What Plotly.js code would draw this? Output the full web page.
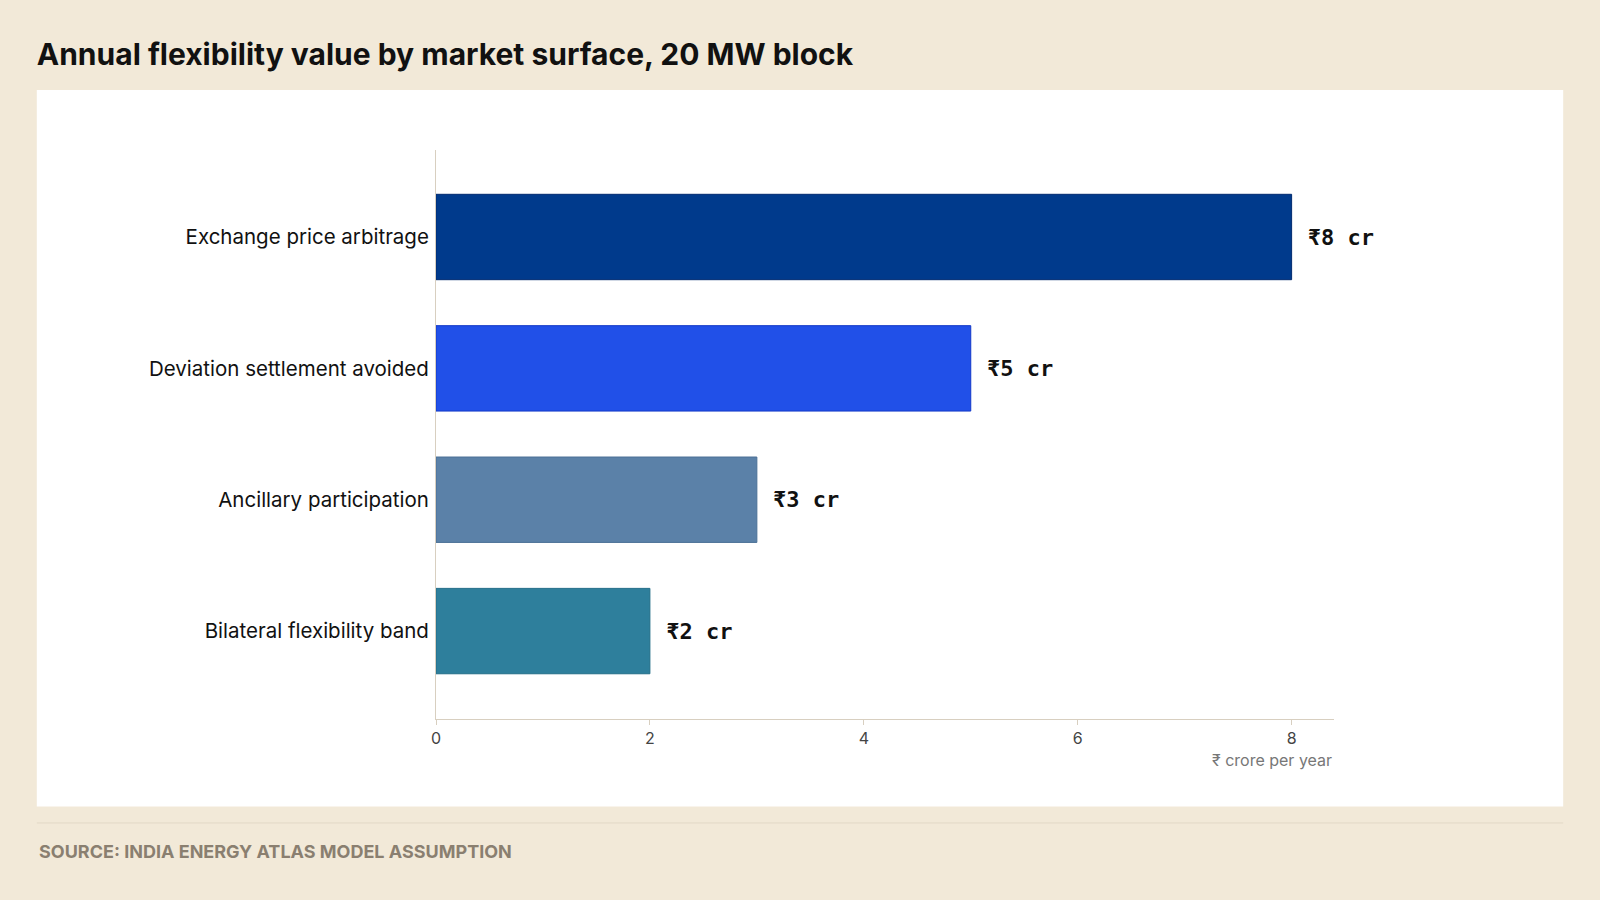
<!DOCTYPE html>
<html>
<head>
<meta charset="utf-8">
<script src="https://cdn.plot.ly/plotly-3.0.1.min.js"></script>
<style>body{margin:0;background:#f2e9d8;}</style>
</head>
<body>
<div id="plot" style="width:1600px;height:900px;"></div>
<script>
const categories = ["Exchange price arbitrage", "Deviation settlement avoided", "Ancillary participation", "Bilateral flexibility band"];
const values = [8, 5, 3, 2];
const labels = [" ₹8 cr", " ₹5 cr", " ₹3 cr", " ₹2 cr"];
const colors = ["#003a8c", "#2150e8", "#5b81a8", "#2e7f9c"];
const edges = ["#002a70", "#1238c8", "#4a6f96", "#226d88"];

const trace = {
    type: 'bar',
    orientation: 'h',
    y: categories,
    x: values,
    text: labels,
    textposition: 'outside',
    cliponaxis: false,
    textfont: { family: 'DejaVu Sans Mono', size: 22, color: '#111', weight: 700 },
    marker: { color: colors, line: { color: edges, width: 1 } },
    hoverinfo: 'none'
};

const layout = {
    width: 1600, height: 900,
    margin: { l: 0, r: 0, t: 0, b: 0 },
    paper_bgcolor: '#f2e9d8',
    plot_bgcolor: 'rgba(0,0,0,0)',
    showlegend: false,
    bargap: 0.35,
    font: { family: 'Inter', color: '#111' },
    title: {
        text: 'Annual flexibility value by market surface, 20 MW block',
        font: { family: 'Inter', size: 30, color: '#111', weight: 700 },
        x: 0.023, xanchor: 'left', y: 0.94, yanchor: 'middle'
    },
    xaxis: {
        domain: [0.2725, 0.834], range: [0, 8.4],
        tickvals: [0, 2, 4, 6, 8], ticks: 'outside', ticklen: 5, tickcolor: '#d8cfc0',
        showgrid: false, zeroline: false, showline: true, linecolor: '#d8cfc0',
        tickfont: { size: 16, color: '#444' }, fixedrange: true
    },
    yaxis: {
        domain: [0.201, 0.833], range: [3.67, -0.66],
        showgrid: false, zeroline: false, showline: true, linecolor: '#d8cfc0',
        ticks: '', ticklabelstandoff: 2,
        tickfont: { size: 20.5, color: '#111' }, fixedrange: true
    },
    shapes: [
        { type: 'rect', xref: 'paper', yref: 'paper', x0: 0.023, x1: 0.977, y0: 0.104, y1: 0.9,
          fillcolor: '#ffffff', line: { width: 0 }, layer: 'below' },
        { type: 'line', xref: 'paper', yref: 'paper', x0: 0.023, x1: 0.977, y0: 0.0856, y1: 0.0856,
          line: { color: '#e2d8c6', width: 1 } }
    ],
    annotations: [
        { text: '₹ crore per year', xref: 'paper', yref: 'paper', x: 0.834, y: 0.156,
          xanchor: 'right', yanchor: 'middle', showarrow: false, font: { size: 16, color: '#777' } },
        { text: 'SOURCE: INDIA ENERGY ATLAS MODEL ASSUMPTION', xref: 'paper', yref: 'paper', x: 0.023, y: 0.054,
          xanchor: 'left', yanchor: 'middle', showarrow: false,
          font: { size: 18, color: '#8a7f70', weight: 700 } }
    ]
};

Plotly.newPlot('plot', [trace], layout, { displayModeBar: false, staticPlot: true });
</script>
</body>
</html>
